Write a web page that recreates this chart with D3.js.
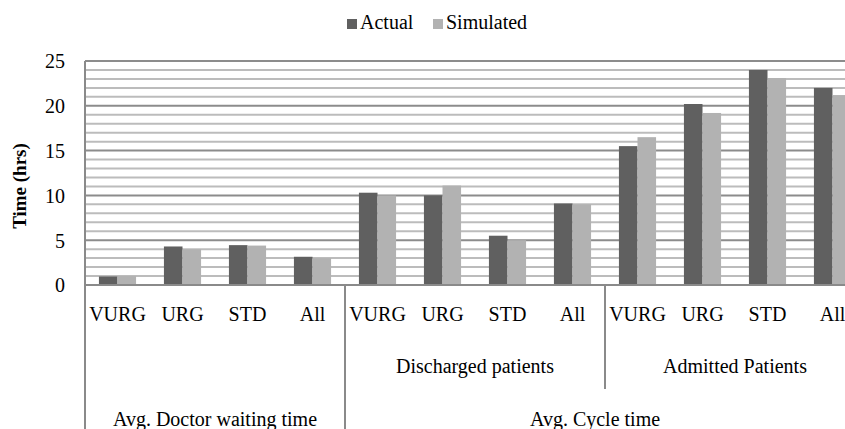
<!DOCTYPE html>
<html>
<head>
<meta charset="utf-8">
<script src="https://cdn.jsdelivr.net/npm/d3@7"></script>
<style>
    body { margin: 0; background: #fff; }
    svg { display: block; }
    svg text { font-family: "Liberation Serif", "Times New Roman", serif; }
    .tick-label { font-size: 20px; fill: #000; }
</style>
</head>
<body>
<svg id="chart"></svg>
<script>
// 数据
var categories = ['VURG', 'URG', 'STD', 'All', 'VURG', 'URG', 'STD', 'All', 'VURG', 'URG', 'STD', 'All'];
var seriesNames = ['Actual', 'Simulated'];
var actual = [0.95, 4.3, 4.45, 3.15, 10.3, 10.0, 5.5, 9.1, 15.5, 20.2, 24.0, 22.0];
var simulated = [1.0, 4.0, 4.4, 3.0, 10.0, 11.1, 5.0, 9.0, 16.5, 19.2, 23.1, 21.2];
// 中间层分组 [标签, 起始索引, 结束索引]
var subGroups = [['', 0, 4], ['Discharged patients', 4, 8], ['Admitted Patients', 8, 12]];
// 顶层分组
var topGroups = [['Avg. Doctor waiting time', 0, 4], ['Avg. Cycle time', 4, 12]];
var yTicks = [0, 5, 10, 15, 20, 25];
var yMax = 25;

var colors = ['#606060', '#b2b2b2'];
var serif = '"Liberation Serif", "Times New Roman", serif';

// svg的宽高
var svgWidth = 845,
    svgHeight = 429;
var padding = {left: 85, top: 61};
var plotRight = 865,
    plotBottom = 285;

var svg = d3.select('#chart')
    .attr('width', svgWidth)
    .attr('height', svgHeight);

// 比例尺
var x0 = d3.scaleBand()
    .domain(d3.range(categories.length))
    .range([padding.left, plotRight])
    .padding(0);
var x1 = d3.scaleBand()
    .domain(seriesNames)
    .range([0, x0.bandwidth()])
    .paddingInner(0)
    .paddingOuter(0.75);
var y = d3.scaleLinear()
    .domain([0, yMax])
    .range([plotBottom, padding.top]);

// 次网格线
svg.append('g')
    .selectAll('line')
    .data(d3.range(1, yMax).filter(function(d) { return d % 5 !== 0; }))
    .enter()
    .append('line')
    .attr('x1', padding.left)
    .attr('x2', plotRight)
    .attr('y1', function(d) { return y(d); })
    .attr('y2', function(d) { return y(d); })
    .attr('stroke', '#bcbcbc')
    .attr('stroke-width', 2);

// 主网格线
svg.append('g')
    .selectAll('line')
    .data(yTicks.filter(function(d) { return d > 0; }))
    .enter()
    .append('line')
    .attr('x1', padding.left)
    .attr('x2', plotRight)
    .attr('y1', function(d) { return y(d); })
    .attr('y2', function(d) { return y(d); })
    .attr('stroke', '#8c8c8c')
    .attr('stroke-width', 2);

// 柱形
var rows = categories.map(function(c, i) {
    return {i: i, values: [actual[i], simulated[i]]};
});
var groups = svg.selectAll('.bar-group')
    .data(rows)
    .enter()
    .append('g')
    .attr('class', 'bar-group')
    .attr('transform', function(d) { return 'translate(' + x0(d.i) + ',0)'; });
groups.selectAll('rect')
    .data(function(d) {
        return d.values.map(function(v, k) { return {name: seriesNames[k], value: v, k: k}; });
    })
    .enter()
    .append('rect')
    .attr('x', function(d) { return x1(d.name); })
    .attr('y', function(d) { return y(d.value); })
    .attr('width', x1.bandwidth())
    .attr('height', function(d) { return plotBottom - y(d.value); })
    .attr('fill', function(d) { return colors[d.k]; });

// y轴
var yAxis = d3.axisLeft(y)
    .tickValues(yTicks)
    .tickSize(0)
    .tickPadding(20);
var yAxisG = svg.append('g')
    .attr('transform', 'translate(' + padding.left + ',0)')
    .call(yAxis)
    .attr('font-family', serif)
    .attr('font-size', 20);
yAxisG.select('.domain').remove();
yAxisG.selectAll('text')
    .attr('class', 'tick-label')
    .attr('dy', '0.34em');

// 坐标轴线与分类分隔线
var lineColor = '#8a8a8a';
svg.append('line')
    .attr('x1', padding.left).attr('x2', plotRight)
    .attr('y1', plotBottom).attr('y2', plotBottom)
    .attr('stroke', lineColor).attr('stroke-width', 2);
svg.append('line')
    .attr('x1', padding.left).attr('x2', padding.left)
    .attr('y1', padding.top).attr('y2', svgHeight)
    .attr('stroke', lineColor).attr('stroke-width', 2);

// 顶层分组边界
svg.selectAll('.top-sep')
    .data(topGroups.slice(1))
    .enter()
    .append('line')
    .attr('class', 'top-sep')
    .attr('x1', function(d) { return x0(d[1]); })
    .attr('x2', function(d) { return x0(d[1]); })
    .attr('y1', plotBottom)
    .attr('y2', svgHeight)
    .attr('stroke', lineColor).attr('stroke-width', 2);
// 中间层分组边界（不与顶层重合的）
var topStarts = topGroups.map(function(d) { return d[1]; });
svg.selectAll('.sub-sep')
    .data(subGroups.filter(function(d) { return topStarts.indexOf(d[1]) < 0; }))
    .enter()
    .append('line')
    .attr('class', 'sub-sep')
    .attr('x1', function(d) { return x0(d[1]); })
    .attr('x2', function(d) { return x0(d[1]); })
    .attr('y1', plotBottom)
    .attr('y2', 389)
    .attr('stroke', lineColor).attr('stroke-width', 2);

// 分类标签
svg.selectAll('.cat-label')
    .data(categories)
    .enter()
    .append('text')
    .attr('class', 'tick-label cat-label')
    .style('font-family', serif)
    .attr('x', function(d, i) { return x0(i) + x0.bandwidth() / 2; })
    .attr('y', 321)
    .attr('text-anchor', 'middle')
    .text(function(d) { return d; });

// 中间层标签
svg.selectAll('.sub-label')
    .data(subGroups.filter(function(d) { return d[0]; }))
    .enter()
    .append('text')
    .attr('class', 'tick-label sub-label')
    .style('font-family', serif)
    .attr('x', function(d) { return (x0(d[1]) + x0(d[2] - 1) + x0.bandwidth()) / 2; })
    .attr('y', 373)
    .attr('text-anchor', 'middle')
    .text(function(d) { return d[0]; });

// 顶层标签（居中于可见区域）
svg.selectAll('.top-label')
    .data(topGroups)
    .enter()
    .append('text')
    .attr('class', 'tick-label top-label')
    .style('font-family', serif)
    .attr('x', function(d) {
        var right = Math.min(x0(d[2] - 1) + x0.bandwidth(), svgWidth);
        return (x0(d[1]) + right) / 2;
    })
    .attr('y', 426)
    .attr('text-anchor', 'middle')
    .text(function(d) { return d[0]; });

// y轴标题
svg.append('text')
    .attr('transform', 'translate(26,186) rotate(-90)')
    .attr('text-anchor', 'middle')
    .style('font-family', serif)
    .attr('font-size', 19)
    .attr('font-weight', 'bold')
    .text('Time (hrs)');

// 图例
var legendX = [347, 433];
var legend = svg.selectAll('.legend')
    .data(seriesNames)
    .enter()
    .append('g')
    .attr('class', 'legend')
    .attr('transform', function(d, i) { return 'translate(' + legendX[i] + ',29)'; });
legend.append('rect')
    .attr('x', 0)
    .attr('y', -10)
    .attr('width', 10)
    .attr('height', 10)
    .attr('fill', function(d, i) { return colors[i]; });
legend.append('text')
    .attr('class', 'tick-label')
    .style('font-family', serif)
    .attr('x', 13)
    .attr('y', 0)
    .text(function(d) { return d; });
</script>
</body>
</html>
